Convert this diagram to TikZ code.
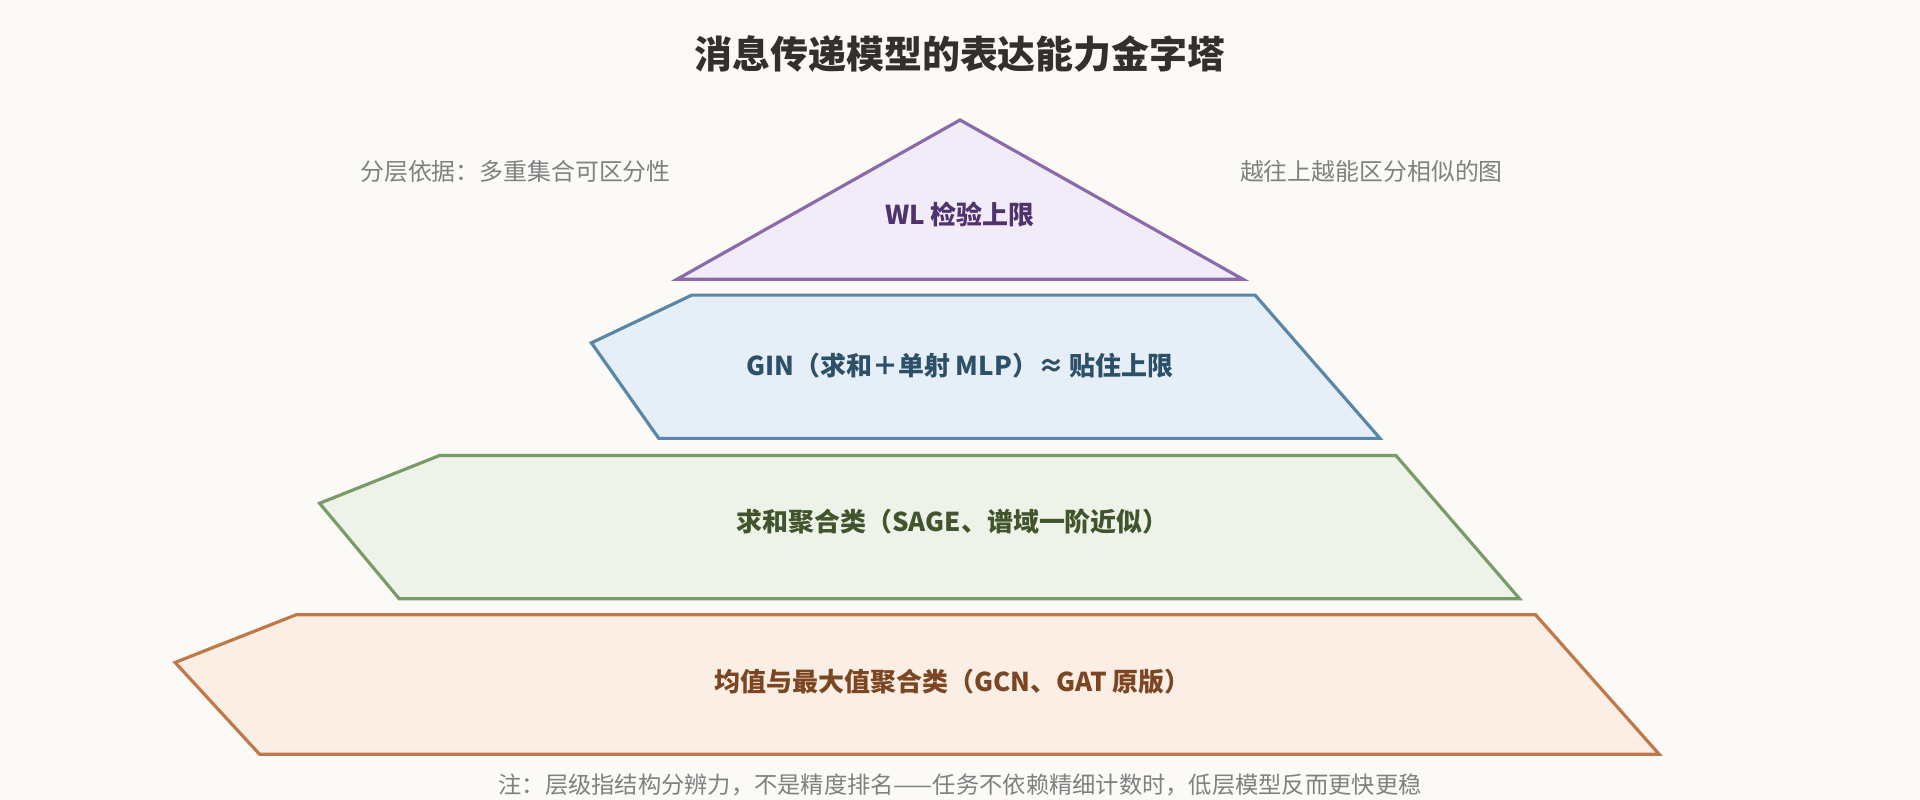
\documentclass[tikz,border=0pt]{standalone}
\usepackage{fontspec}
\setmainfont{Noto Sans CJK SC}
\begin{document}
\begin{tikzpicture}[x=1pt,y=-1pt,
  lvl/.style={line width=2.6pt,line join=miter},
  lab/.style={font=\fontsize{21.2}{24}\selectfont\bfseries,anchor=center},
  grey/.style={text=black!50,font=\fontsize{19.5}{22}\selectfont,anchor=center}]
\definecolor{bg}{HTML}{FBFAF7}
\fill[bg] (0,0) rectangle (1568,653);
\useasboundingbox (0,0) rectangle (1568,653);
\node[font=\fontsize{31}{35}\selectfont\bfseries,text={rgb,255:red,51;green,47;blue,44}] (title) at (784,44) {消息传递模型的表达能力金字塔};
\node[grey] (l) at (421,140) {分层依据：多重集合可区分性};
\node[grey] (r) at (1120,140) {越往上越能区分相似的图};
\draw[lvl,draw={rgb,255:red,138;green,106;blue,168},fill={rgb,255:red,242;green,235;blue,248}] (784,98) -- (1015,228) -- (553,228) -- cycle;
\node[lab,text={rgb,255:red,80;green,50;blue,110}] (wl) at (784,175) {WL 检验上限};
\draw[lvl,draw={rgb,255:red,90;green,134;blue,168},fill={rgb,255:red,230;green,239;blue,248}] (565,241) -- (1025,241) -- (1127,358) -- (538,358) -- (483,280) -- cycle;
\node[lab,text={rgb,255:red,45;green,80;blue,105}] (gin) at (784,299) {GIN（求和＋单射 MLP）≈ 贴住上限};
\draw[lvl,draw={rgb,255:red,122;green,154;blue,104},fill={rgb,255:red,238;green,243;blue,234}] (359,372) -- (1140,372) -- (1241,489) -- (326,489) -- (261,411) -- cycle;
\node[lab,text={rgb,255:red,65;green,85;blue,45}] (sum) at (778,426) {求和聚合类（SAGE、谱域一阶近似）};
\draw[lvl,draw={rgb,255:red,192;green,120;blue,72},fill={rgb,255:red,251;green,238;blue,228}] (242,502) -- (1254,502) -- (1355,616) -- (212,616) -- (143,541) -- cycle;
\node[lab,text={rgb,255:red,125;green,70;blue,35}] (mean) at (778,557) {均值与最大值聚合类（GCN、GAT 原版）};
\node[grey,font=\fontsize{19}{22}\selectfont] (note) at (784,641) {注：层级指结构分辨力，不是精度排名——任务不依赖精细计数时，低层模型反而更快更稳};
\end{tikzpicture}
\end{document}
